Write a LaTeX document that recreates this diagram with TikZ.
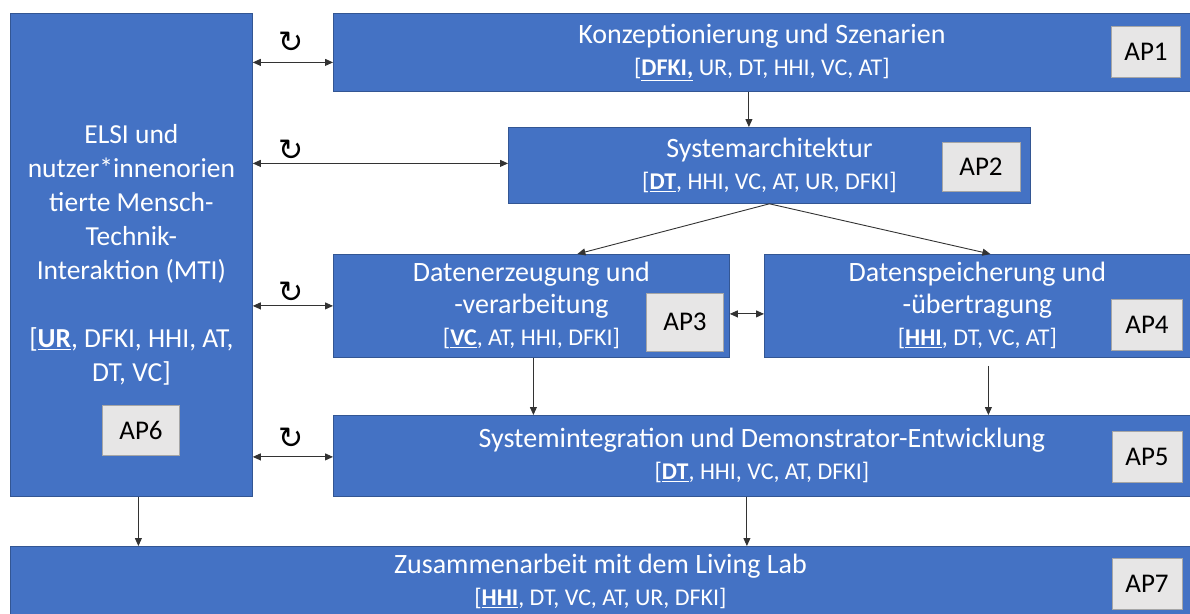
\documentclass[tikz,border=0pt]{standalone}
\usepackage{fontspec}
\setmainfont{Carlito}
\newfontfamily\symfont{DejaVu Sans}
\usetikzlibrary{arrows.meta}

\definecolor{wpblue}{HTML}{4472C4}
\definecolor{wpgray}{HTML}{E7E6E6}

\tikzset{
  wp/.style={draw=wpblue!75!black, line width=0.8pt, fill=wpblue, text=white,
    align=center, inner sep=0pt, anchor=north west,
    font=\fontsize{28}{32}\selectfont},
  aptag/.style={draw=black!35, line width=0.8pt, fill=wpgray, text=black,
    inner sep=0pt, font=\fontsize{27}{30}\selectfont},
  rot/.style={font=\symfont\fontsize{30}{30}\selectfont, inner sep=0pt},
  link/.style={draw=black!80, line width=0.9pt, -{Triangle[length=8pt,width=7pt]}},
  dlink/.style={link, {Triangle[length=8pt,width=7pt]}-{Triangle[length=8pt,width=7pt]}}
}

\newcommand{\lead}[1]{\underline{\textbf{#1}}}
\newcommand{\who}[1]{{\fontsize{24}{32}\selectfont #1}}

\begin{document}
\begin{tikzpicture}[x=1pt,y=-1pt]
\useasboundingbox (0,0) rectangle (1190,613);
\clip (0,0) rectangle (1190,613);

% work packages
\node[wp, minimum width=242pt, minimum height=483pt,
  font=\fontsize{27.5}{34}\selectfont] (elsi) at (10,13)
  {ELSI und\\nutzer*innenorien\\tierte Mensch-\\Technik-\\Interaktion (MTI)\\[34pt]
   [\lead{UR}, DFKI, HHI, AT,\\DT, VC]};
\node[wp, minimum width=857pt, minimum height=78pt] (ap1) at (333,13)
  {Konzeptionierung und Szenarien\\\who{[\lead{DFKI,} UR, DT, HHI, VC, AT]}};
\node[wp, minimum width=522pt, minimum height=76pt] (ap2) at (508,127)
  {Systemarchitektur\\\who{[\lead{DT}, HHI, VC, AT, UR, DFKI]}};
\node[wp, minimum width=396pt, minimum height=103pt] (ap3) at (333,254)
  {Datenerzeugung und\\-verarbeitung\\\who{[\lead{VC}, AT, HHI, DFKI]}};
\node[wp, minimum width=426pt, minimum height=103pt] (ap4) at (764,254)
  {Datenspeicherung und\\-übertragung\\\who{[\lead{HHI}, DT, VC, AT]}};
\node[wp, minimum width=857pt, minimum height=81pt] (ap5) at (333,415)
  {Systemintegration und Demonstrator-Entwicklung\\\who{[\lead{DT}, HHI, VC, AT, DFKI]}};
\node[wp, minimum width=1180pt, minimum height=70pt] (ap7) at (10,546)
  {Zusammenarbeit mit dem Living Lab\\\who{[\lead{HHI}, DT, VC, AT, UR, DFKI]}};

% AP tags
\node[aptag, minimum width=69pt, minimum height=51pt] (tag1) at (1146,52) {AP1};
\node[aptag, minimum width=78pt, minimum height=49pt] (tag2) at (981,167) {AP2};
\node[aptag, minimum width=77pt, minimum height=58pt] (tag3) at (685,322) {AP3};
\node[aptag, minimum width=71pt, minimum height=51pt] (tag4) at (1147,325) {AP4};
\node[aptag, minimum width=70pt, minimum height=51pt] (tag5) at (1147,457) {AP5};
\node[aptag, minimum width=77pt, minimum height=50pt] (tag6) at (141,430) {AP6};
\node[aptag, minimum width=70pt, minimum height=51pt] (tag7) at (1147,584) {AP7};

% feedback with ELSI
\node[rot] (rot1) at (291,42) {↻};
\node[rot] (rot2) at (291,150) {↻};
\node[rot] (rot3) at (291,292) {↻};
\node[rot] (rot4) at (291,438) {↻};
\draw[dlink] ([yshift=-10pt]ap1.west -| elsi.east) -- ([yshift=-10pt]ap1.west);
\draw[dlink] ([yshift=2pt]ap2.west -| elsi.east) -- ([yshift=2pt]ap2.west);
\draw[dlink] (ap3.west -| elsi.east) -- (ap3.west);
\draw[dlink] ([yshift=-1pt]ap5.west -| elsi.east) -- ([yshift=-1pt]ap5.west);

% flow
\draw[link] ([xshift=-13pt]ap1.south) -- ([xshift=-13pt]ap1.south |- ap2.north);
\draw[link] (ap2.south) -- ([xshift=46pt]ap3.north);
\draw[link] (ap2.south) -- ([xshift=13pt]ap4.north);
\draw[dlink] ([yshift=-8pt]ap3.east) -- ([yshift=-8pt]ap3.east -| ap4.west);
\draw[link] ([xshift=2pt]ap3.south) -- ([xshift=2pt]ap3.south |- ap5.north);
\draw[link, shorten <=8pt] ([xshift=11pt]ap4.south) -- ([xshift=11pt]ap4.south |- ap5.north);
\draw[link] ([xshift=7pt]elsi.south) -- ([xshift=7pt]elsi.south |- ap7.north);
\draw[link] ([xshift=-15pt]ap5.south) -- ([xshift=-15pt]ap5.south |- ap7.north);

\end{tikzpicture}
\end{document}
